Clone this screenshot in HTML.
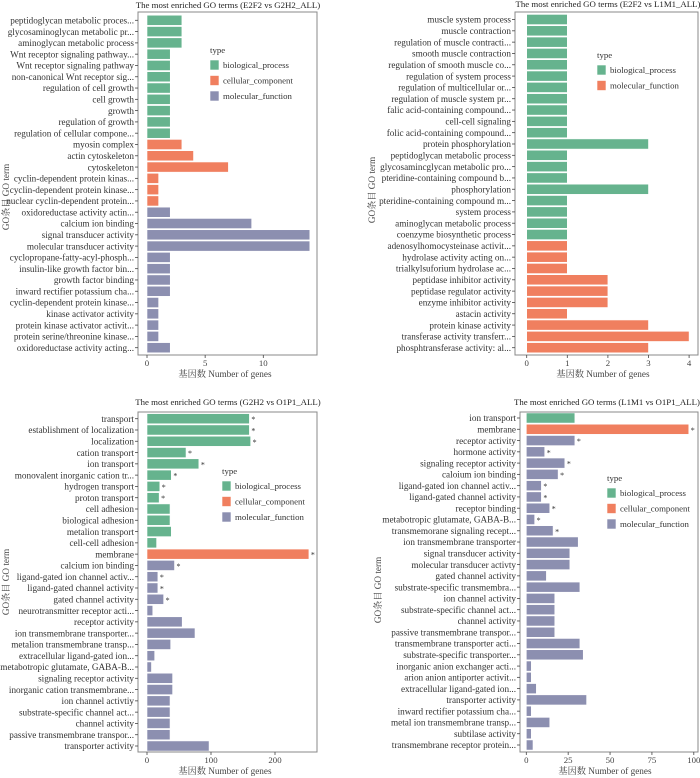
<!DOCTYPE html>
<html><head><meta charset="utf-8"><style>
html,body{margin:0;padding:0;background:#fff;}
svg{display:block;font-family:"Liberation Serif","Noto Serif CJK SC",serif;}
</style></head><body>
<svg id="fig" width="700" height="778" viewBox="0 0 700 778"></svg>
<script>
// Panel 1: E2F2 vs G2H2
const p1Labels = ["peptidoglycan metabolic proces...","glycosaminoglycan metabolic pr...","aminoglycan metabolic process","Wnt receptor signaling pathway...","Wnt receptor signaling pathway","non-canonical Wnt receptor sig...","regulation of cell growth","cell growth","growth","regulation of growth","regulation of cellular compone...","myosin complex","actin cytoskeleton","cytoskeleton","cyclin-dependent protein kinas...","cyclin-dependent protein kinase...","nuclear cyclin-dependent protein...","oxidoreductase activity actin...","calcium ion binding","signal transducer activity","molecular transducer activity","cyclopropane-fatty-acyl-phosph...","insulin-like growth factor bin...","growth factor binding","inward rectifier potassium cha...","cyclin-dependent protein kinase...","kinase activator activity","protein kinase activator activit...","protein serine/threonine kinase...","oxidoreductase activity acting..."];
const p1Values = [3,3,3,2,2,2,2,2,2,2,2,3,4,7,1,1,1,2,9,14,14,2,2,2,2,1,1,1,1,2];
const p1Types = ["bp","bp","bp","bp","bp","bp","bp","bp","bp","bp","bp","cc","cc","cc","cc","cc","cc","mf","mf","mf","mf","mf","mf","mf","mf","mf","mf","mf","mf","mf"];
const p1Stars = [];
const p1Ticks = [0,5,10];

// Panel 2: E2F2 vs L1M1
const p2Labels = ["muscle system process","muscle contraction","regulation of muscle contracti...","smooth muscle contraction","regulation of smooth muscle co...","regulation of system process","regulation of multicellular or...","regulation of muscle system pr...","falic acid-containing compound...","cell-cell signaling","folic acid-containing compound...","protein phosphorylation","peptidoglycan metabolic process","glycosamincglycan metabolic pro...","pteridine-containing compound b...","phosphorylation","pteridine-containing compound m...","system process","aminoglycan metabolic process","coenzyme biosynthetic process","adenosylhomocysteinase activit...","hydrolase activity acting on...","trialkylsuforium hydrolase ac...","peptidase inhibitor activity","peptidase regulator activity","enzyme inhibitor activity","astacin activity","protein kinase activity","transferase activity transferr...","phosphtransferase activity: al..."];
const p2Values = [1,1,1,1,1,1,1,1,1,1,1,3,1,1,1,3,1,1,1,1,1,1,1,2,2,2,1,3,4,3];
const p2Types = ["bp","bp","bp","bp","bp","bp","bp","bp","bp","bp","bp","bp","bp","bp","bp","bp","bp","bp","bp","bp","cc","cc","cc","cc","cc","cc","cc","cc","cc","cc"];
const p2Stars = [];
const p2Ticks = [0,1,2,3,4];

// Panel 3: G2H2 vs O1P1
const p3Labels = ["transport","establishment of localization","localization","cation transport","ion transport","monovalent inorganic cation tr...","hydrogen transport","proton transport","cell adhesion","biological adhesion","metalion transport","cell-cell adhesion","membrane","calcium ion binding","ligand-gated ion channel activ...","ligand-gated channel activity","gated channel activity","neurotransmitter receptor acti...","receptor activity","ion transmembrane transporter...","metalion transmembrane transp...","extracellular ligand-gated ion...","metabotropic glutamate, GABA-B...","signaling receptor activity","inorganic cation transmembrane...","ion channel activtiy","substrate-specific channel act...","channel activity","passive transmembrane transpor...","transporter activity"];
const p3Values = [160,160,162,61,81,38,20,19,36,36,38,15,253,43,17,17,26,9,55,75,37,12,7,40,40,36,36,36,36,97];
const p3Types = ["bp","bp","bp","bp","bp","bp","bp","bp","bp","bp","bp","bp","cc","mf","mf","mf","mf","mf","mf","mf","mf","mf","mf","mf","mf","mf","mf","mf","mf","mf"];
const p3Stars = [1,1,1,1,1,1,1,1,0,0,0,0,1,1,1,1,1,0,0,0,0,0,0,0,0,0,0,0,0,0];
const p3Ticks = [0,100,200];

// Panel 4: L1M1 vs O1P1
const p4Labels = ["ion transport","membrane","receptor activity","hormone activity","signaling receptor activity","caloium ion binding","ligand-gated ion channel activ...","ligand-gated channel activity","receptor binding","metabotropic glutamate, GABA-B...","transmemorane signaling recept...","ion transmembrane transporter","signal transducer activity","molecular transducer activty","gated channel activity","substrate-specific transmembra...","ion channel activity","substrate-specific channel act...","channel activity","passive transmembrane transpor...","transmembrane transporter acti...","substrate-specific transporter...","inorganic anion exchanger acti...","arion anion antiporter activit...","extracellular ligand-gated ion...","transporter activity","inward rectifier potassium cha...","metal ion transmembrane transp...","subtilase activity","transmembrane receptor protein..."];
const p4Values = [29,97,29,11,23,19,9,9,14,5,16,31,26,26,12,32,17,17,17,17,32,34,3,3,6,36,3,14,3,4];
const p4Types = ["bp","cc","mf","mf","mf","mf","mf","mf","mf","mf","mf","mf","mf","mf","mf","mf","mf","mf","mf","mf","mf","mf","mf","mf","mf","mf","mf","mf","mf","mf"];
const p4Stars = [0,1,1,1,1,1,1,1,1,1,1,0,0,0,0,0,0,0,0,0,0,0,0,0,0,0,0,0,0,0];
const p4Ticks = [0,25,50,75,100];

const COL = {bp:"#66b38e", cc:"#f07f5f", mf:"#8c8fb0"};
const NS = "http://www.w3.org/2000/svg";
const svg = document.getElementById('fig');

function mk(tag, attrs, parent, text){
  const e = document.createElementNS(NS, tag);
  for (const k in attrs) e.setAttribute(k, attrs[k]);
  if (text !== undefined) e.textContent = text;
  parent.appendChild(e);
  return e;
}

function panel(cfg){
  const g = mk('g', {}, svg);
  
  
  const x = v => cfg.x0 + v * cfg.scale;
  const n = cfg.labels.length;
  const step = (cfg.yLast - cfg.yFirst) / (n - 1);
  const y = i => cfg.yFirst + i * step;
  const bh = step * 0.9;
  const box = mk('rect', {x:cfg.left, y:cfg.top, width:cfg.right-cfg.left, height:cfg.bottom-cfg.top, fill:'#fff', stroke:'#888', 'stroke-width':1}, g);
  
  
  const t = mk('text', {x:cfg.titleX, y:cfg.titleY, 'font-size':8.8, 'text-anchor':'middle', fill:'#222'}, g, cfg.title);
  
  
  for (let i = 0; i < n; i++){
    const c = COL[cfg.types[i]];
    const r = mk('rect', {x:x(0), y:y(i)-bh/2, width:x(cfg.values[i])-x(0), height:bh, fill:c, stroke:'#fff', 'stroke-width':0.6}, g);
    
    
    mk('line', {x1:cfg.left-3, x2:cfg.left, y1:y(i), y2:y(i), stroke:'#444', 'stroke-width':0.8}, g);
    const lb = mk('text', {x:cfg.left-4, y:y(i)+3.2, 'font-size':9.2, 'text-anchor':'end', fill:'#333'}, g, cfg.labels[i]);
    
    
    if (cfg.stars[i]){
      const s = mk('text', {x:x(cfg.values[i])+2, y:y(i)+3.5, 'font-size':8, fill:'#333'}, g, '*');
      
      
    }
  }
  cfg.ticks.forEach(tv => {
    mk('line', {x1:x(tv), x2:x(tv), y1:cfg.bottom, y2:cfg.bottom+3, stroke:'#444', 'stroke-width':0.8}, g);
    const tl = mk('text', {x:x(tv), y:cfg.bottom+11, 'font-size':8.8, 'text-anchor':'middle', fill:'#444'}, g, String(tv));
    
    
  });
  const xl = mk('text', {x:cfg.xlabX, y:cfg.bottom+22, 'font-size':9.2, 'text-anchor':'middle', fill:'#444'}, g, '基因数  Number of genes');
  
  
  const yl = mk('text', {x:0, y:0, 'font-size':9.2, 'text-anchor':'middle', fill:'#444', transform:`translate(${cfg.ylabX},${cfg.ylabY}) rotate(-90)`}, g, 'GO条目  GO term');
  
  
  const lg = mk('g', {}, g);
  
  
  mk('text', {x:cfg.legX, y:cfg.legY, 'font-size':8.8, fill:'#333'}, lg, 'type');
  cfg.legend.forEach((it, k) => {
    const ky = cfg.legY + 7 + k * 15.5;
    const kr = mk('rect', {x:cfg.legX, y:ky, width:9, height:10, fill:it[1], stroke:'#fff', 'stroke-width':0.6}, lg);
    
    
    const kt = mk('text', {x:cfg.legX+13, y:ky+8, 'font-size':8.8, fill:'#333'}, lg, it[0]);
    
    
  });
}

const L3 = [["biological_process",COL.bp],["cellular_component",COL.cc],["molecular_function",COL.mf]];
panel({name:'panel-e2f2-vs-g2h2', labels:p1Labels, values:p1Values, types:p1Types, stars:p1Stars, ticks:p1Ticks,
  left:138, right:317, top:12, bottom:355, x0:147, scale:11.63, yFirst:20.3, yLast:347.7,
  title:'The most enriched GO terms (E2F2 vs G2H2_ALL)', titleX:228, titleY:8, xlabX:225, ylabX:9, ylabY:197,
  legX:210, legY:53, legend:L3});
panel({name:'panel-e2f2-vs-l1m1', labels:p2Labels, values:p2Values, types:p2Types, stars:p2Stars, ticks:p2Ticks,
  left:515, right:698, top:12, bottom:355, x0:526.7, scale:40.6, yFirst:19.5, yLast:347.7,
  title:'The most enriched GO terms (E2F2 vs L1M1_ALL)', titleX:608, titleY:7, xlabX:603, ylabX:375, ylabY:190,
  legX:597, legY:58, legend:[["biological_process",COL.bp],["molecular_function",COL.cc]]});
panel({name:'panel-g2h2-vs-o1p1', labels:p3Labels, values:p3Values, types:p3Types, stars:p3Stars, ticks:p3Ticks,
  left:138, right:317, top:412, bottom:752, x0:147, scale:0.64, yFirst:418.7, yLast:746,
  title:'The most enriched GO terms (G2H2 vs O1P1_ALL)', titleX:228, titleY:405, xlabX:225, ylabX:9, ylabY:582,
  legX:222, legY:474, legend:L3});
panel({name:'panel-l1m1-vs-o1p1', labels:p4Labels, values:p4Values, types:p4Types, stars:p4Stars, ticks:p4Ticks,
  left:520, right:698, top:412, bottom:752, x0:526.3, scale:1.675, yFirst:418, yLast:745,
  title:'The most enriched GO terms (L1M1 vs O1P1_ALL)', titleX:607, titleY:405, xlabX:605, ylabX:381, ylabY:590,
  legX:607, legY:481, legend:L3});
</script>
</body></html>
